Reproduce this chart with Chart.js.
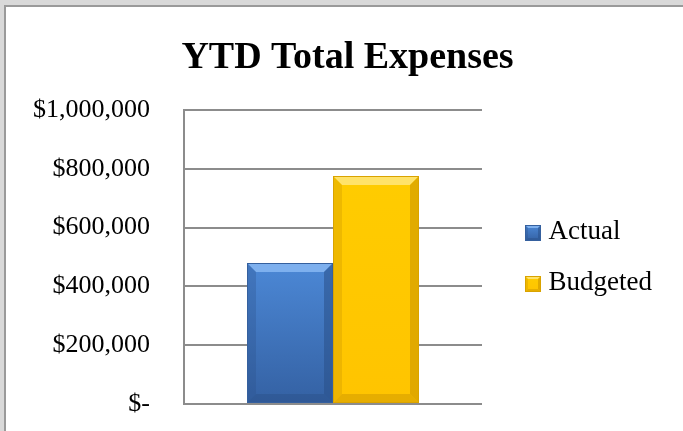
<!DOCTYPE html>
<html><head><meta charset="utf-8">
<script src="https://cdn.jsdelivr.net/npm/chart.js@4"></script>
<style>
html,body{margin:0;padding:0;background:#d9d9d9;width:683px;height:431px;overflow:hidden}
#frame{position:absolute;left:4px;top:5px;width:679px;height:426px;background:#fff;border-left:2px solid #9a9a9a;border-top:2px solid #9a9a9a;box-sizing:border-box}
#c{position:absolute;left:0;top:0}
</style></head><body>
<div id="frame"></div>
<canvas id="c" width="683" height="431"></canvas>
<script>
const titleText = 'YTD Total Expenses';
const categories = [''];
const seriesNames = ['Actual', 'Budgeted'];
const actualValues = [480000];
const budgetedValues = [775000];
const yTicks = [0, 200000, 400000, 600000, 800000, 1000000];

const palette = {
  Actual: {top:'#4c88d6', bottom:'#3461a3', light:'#7eb0ee', dark:'#2a5088', edge:'#35609e'},
  Budgeted: {top:'#ffcc00', bottom:'#ffc400', light:'#ffe36a', dark:'#c89200', edge:'#d9a300'}
};
const serif = "'Liberation Serif','Times New Roman',serif";

function fmt(v){ return v===0 ? '$-' : '$' + v.toLocaleString('en-US'); }

function bevel(ctx, x0, y0, x1, y1, p, b){
  const w = x1-x0, h = y1-y0;
  b = Math.min(b, w/3, h/3);
  const g = ctx.createLinearGradient(0,y0,0,y1);
  g.addColorStop(0,p.top); g.addColorStop(1,p.bottom);
  ctx.fillStyle = g; ctx.fillRect(x0,y0,w,h);
  ctx.fillStyle = p.light;
  ctx.beginPath(); ctx.moveTo(x0,y0); ctx.lineTo(x1,y0); ctx.lineTo(x1-b,y0+b); ctx.lineTo(x0+b,y0+b); ctx.closePath(); ctx.fill();
  ctx.globalAlpha = 0.3; ctx.fillStyle = p.dark;
  ctx.beginPath(); ctx.moveTo(x0,y0); ctx.lineTo(x0+b,y0+b); ctx.lineTo(x0+b,y1-b); ctx.lineTo(x0,y1); ctx.closePath(); ctx.fill();
  ctx.globalAlpha = 0.55;
  ctx.beginPath(); ctx.moveTo(x1,y0); ctx.lineTo(x1-b,y0+b); ctx.lineTo(x1-b,y1-b); ctx.lineTo(x1,y1); ctx.closePath(); ctx.fill();
  ctx.globalAlpha = 0.45;
  ctx.beginPath(); ctx.moveTo(x0,y1); ctx.lineTo(x0+b,y1-b); ctx.lineTo(x1-b,y1-b); ctx.lineTo(x1,y1); ctx.closePath(); ctx.fill();
  ctx.globalAlpha = 1;
  ctx.strokeStyle = p.edge; ctx.lineWidth = 1;
  ctx.strokeRect(x0+0.5,y0+0.5,w-1,h-1);
}

const LEG_BOX_OFFSET = 19, LEG_BOX = 16, LEGEND_WIDTH = 201;
const bevelPlugin = {
  id:'bevel',
  beforeLayout(chart){
    const lg = chart.legend;
    if (lg && !lg._fixedFit) {
      const orig = lg.fit;
      lg.fit = function(){ orig.call(this); this.width = LEGEND_WIDTH; };
      lg._fixedFit = true;
    }
  },
  afterDatasetsDraw(chart){
    const ctx = chart.ctx; ctx.save();
    chart.data.datasets.forEach((ds,i)=>{
      const meta = chart.getDatasetMeta(i);
      meta.data.forEach(el=>{
        const {x,y,base,width} = el.getProps(['x','y','base','width'],true);
        bevel(ctx, Math.round(x-width/2), Math.round(y), Math.round(x+width/2), Math.round(base), palette[ds.label], 9);
      });
    });
    ctx.restore();
  },
  afterDraw(chart){
    const lg = chart.legend; if(!lg || !lg.legendHitBoxes) return;
    const ctx = chart.ctx; ctx.save();
    lg.legendHitBoxes.forEach((hb,i)=>{
      const y0 = Math.round(hb.top + (hb.height-LEG_BOX)/2) + 1;
      const x0 = Math.round(hb.left + LEG_BOX_OFFSET);
      bevel(ctx, x0, y0, x0+LEG_BOX, y0+LEG_BOX, palette[seriesNames[i]], 3);
    });
    ctx.restore();
  }
};

new Chart(document.getElementById('c'), {
  type:'bar',
  data:{
    labels: categories,
    datasets:[
      {label: seriesNames[0], data: actualValues, backgroundColor: palette.Actual.top},
      {label: seriesNames[1], data: budgetedValues, backgroundColor: palette.Budgeted.top}
    ]
  },
  options:{
    responsive:false, animation:false, devicePixelRatio:1,
    layout:{padding:{left:12, right:0, top:0, bottom:27}},
    datasets:{bar:{categoryPercentage:0.577, barPercentage:1, borderWidth:0}},
    plugins:{
      title:{display:true, text:titleText, color:'#000',
        font:{family:serif, size:38, weight:'bold'}, padding:{top:35, bottom:29.4}},
      legend:{position:'right', align:'center', fullSize:false,
        labels:{color:'#000', font:{family:serif, size:27}, boxWidth:29, boxHeight:16, padding:24,
          generateLabels(chart){
            return chart.data.datasets.map((ds,i)=>({text:ds.label, fillStyle:'rgba(0,0,0,0)', strokeStyle:'rgba(0,0,0,0)', lineWidth:0, hidden:false, datasetIndex:i, fontColor:'#000'}));
          }}},
      tooltip:{enabled:false}
    },
    scales:{
      x:{display:false},
      y:{min:0, max:1000000,
        afterBuildTicks(s){ s.ticks = yTicks.map(v=>({value:v})); },
        afterFit(s){ s.width = 172; },
        grid:{color:'#8c8c8c', lineWidth:2, drawTicks:true, tickLength:34, tickColor:'rgba(0,0,0,0)'},
        border:{display:true, color:'#8c8c8c', width:2},
        ticks:{color:'#000', font:{family:serif, size:26}, padding:0, callback:v=>fmt(v)}
      }
    }
  },
  plugins:[bevelPlugin]
});
</script>
</body></html>
